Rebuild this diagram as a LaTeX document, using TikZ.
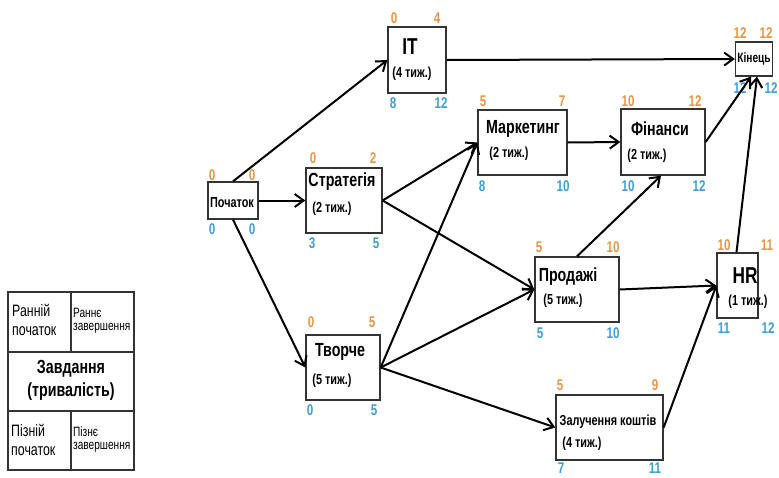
\documentclass[tikz,border=0pt]{standalone}
\usepackage{fontspec}
\setmainfont{Liberation Sans}[FakeStretch=0.75]
\usetikzlibrary{arrows.meta}
\definecolor{es}{HTML}{E99548}
\definecolor{ls}{HTML}{3D9FD3}
\definecolor{bx}{HTML}{333333}
\tikzset{
  box/.style={draw=bx, line width=1.3pt, fill=white, inner sep=0pt},
  ttl/.style={font=\bfseries\fontsize{19}{21}\selectfont, inner sep=0pt},
  ttlb/.style={font=\bfseries\fontsize{23}{25}\selectfont, inner sep=0pt},
  ttls/.style={font=\bfseries\fontsize{14.5}{16}\selectfont, inner sep=0pt},
  dur/.style={font=\bfseries\fontsize{14.5}{16}\selectfont, inner sep=0pt},
  enum/.style={text=es, font=\bfseries\fontsize{15.5}{17}\selectfont, inner sep=0pt},
  lnum/.style={text=ls, font=\bfseries\fontsize{15.5}{17}\selectfont, inner sep=0pt},
  conn/.style={line width=2pt, -{Straight Barb[length=9pt,width=13pt,line width=2pt]}},
  leg/.style={draw=bx, line width=1.3pt},
  legbig/.style={font=\fontsize{16.5}{19}\selectfont, inner sep=0pt, align=left, anchor=west},
  legsm/.style={font=\fontsize{13.5}{15}\selectfont, inner sep=0pt, align=left, anchor=west},
}
\begin{document}
\begin{tikzpicture}[x=1pt,y=-1pt]
\useasboundingbox (0,0) rectangle (779,477);

% Legend
\draw[leg] (8,292) rectangle (134,470);
\draw[leg] (8,352) -- (134,352);
\draw[leg] (8,411) -- (134,411);
\draw[leg] (71,292) -- (71,352);
\draw[leg] (71,411) -- (71,470);
\node[legbig] (l1a) at (12,310) {Ранній};
\node[legbig] (l1b) at (12,331) {початок};
\node[legsm] (l2a) at (73,313) {Раннє};
\node[legsm] (l2b) at (73,328) {завершення};
\node[font=\bfseries\fontsize{19}{22}\selectfont, inner sep=0pt] (l3a) at (71,369) {Завдання};
\node[font=\bfseries\fontsize{19}{22}\selectfont, inner sep=0pt] (l3b) at (71,392) {(тривалість)};
\node[legbig] (l4a) at (11,430) {Пізній};
\node[legbig] (l4b) at (11,451) {початок};
\node[legsm] (l5a) at (73,432) {Пізнє};
\node[legsm] (l5b) at (73,447) {завершення};

% Boxes
\node[box, minimum width=50, minimum height=37] (start) at (233,200.5) {};
\node[box, minimum width=76, minimum height=65] (strat) at (344,200.5) {};
\node[box, minimum width=58, minimum height=66] (it) at (417,60) {};
\node[box, minimum width=89, minimum height=65] (mark) at (522.5,142.5) {};
\node[box, minimum width=84, minimum height=66] (fin) at (663,142) {};
\node[box, minimum width=37, minimum height=34] (end) at (754,59) {};
\node[box, minimum width=74, minimum height=65] (tvor) at (343,367.5) {};
\node[box, minimum width=84, minimum height=65] (prod) at (577,289.5) {};
\node[box, minimum width=41, minimum height=65] (hr) at (737.5,285.5) {};
\node[box, minimum width=107, minimum height=65] (zal) at (609.5,427.5) {};

% Titles
\node[ttls] (t-start) at (232,203) {Початок};
\node[ttl] (t-strat) at (342,182) {Стратегія};
\node[dur] (d-strat) at (332,209) {(2 тиж.)};
\node[ttlb] (t-it) at (410,47) {IT};
\node[dur] (d-it) at (412,74) {(4 тиж.)};
\node[ttl] (t-mark) at (523,129) {Маркетинг};
\node[dur] (d-mark) at (509,154) {(2 тиж.)};
\node[ttl] (t-fin) at (660,129) {Фінанси};
\node[dur] (d-fin) at (647,156) {(2 тиж.)};
\node[font=\bfseries\fontsize{13.5}{15}\selectfont, inner sep=0pt] (t-end) at (754,59) {Кінець};
\node[ttl] (t-tvor) at (340,352) {Творче};
\node[dur] (d-tvor) at (332,381) {(5 тиж.)};
\node[ttl] (t-prod) at (568,277) {Продажі};
\node[dur] (d-prod) at (563,301) {(5 тиж.)};
\node[ttlb] (t-hr) at (745,276) {HR};
\node[dur] (d-hr) at (748,302) {(1 тиж.)};
\node[ttls] (t-zal) at (608,422) {Залучення коштів};
\node[dur] (d-zal) at (582,444) {(4 тиж.)};

% Numbers
\node[enum] (n1) at (212,175) {0};  \node[enum] (n2) at (252,175) {0};
\node[lnum] (n3) at (212,229) {0};  \node[lnum] (n4) at (252,229) {0};
\node[enum] (n5) at (313,158) {0};  \node[enum] (n6) at (373,158) {2};
\node[lnum] (n7) at (312,243) {3};  \node[lnum] (n8) at (376,243) {5};
\node[enum] (n9) at (394,18) {0};   \node[enum] (n10) at (437,18) {4};
\node[lnum] (n11) at (393,103) {8}; \node[lnum] (n12) at (441,103) {12};
\node[enum] (n13) at (483,101) {5}; \node[enum] (n14) at (562,101) {7};
\node[lnum] (n15) at (482,186) {8}; \node[lnum] (n16) at (563,186) {10};
\node[enum] (n17) at (628,101) {10}; \node[enum] (n18) at (695,101) {12};
\node[lnum] (n19) at (628,186) {10}; \node[lnum] (n20) at (699,186) {12};
\node[enum] (n21) at (740,33) {12}; \node[enum] (n22) at (766,33) {12};
\node[lnum] (n23) at (740,88) {12}; \node[lnum] (n24) at (771,88) {12};
\node[enum] (n25) at (311,322) {0}; \node[enum] (n26) at (372,322) {5};
\node[lnum] (n27) at (310,410) {0}; \node[lnum] (n28) at (374,410) {5};
\node[enum] (n29) at (539,247) {5}; \node[enum] (n30) at (613,247) {10};
\node[lnum] (n31) at (540,333) {5}; \node[lnum] (n32) at (613,333) {10};
\node[enum] (n33) at (724,245) {10}; \node[enum] (n34) at (767,245) {11};
\node[lnum] (n35) at (724,328) {11}; \node[lnum] (n36) at (768,328) {12};
\node[enum] (n37) at (560,385) {5}; \node[enum] (n38) at (655,385) {9};
\node[lnum] (n39) at (561,468) {7}; \node[lnum] (n40) at (655,468) {11};

% Connectors
\draw[conn] (start.north) -- (it.west);
\draw[conn] (start.east) -- (strat.west);
\draw[conn] (start.south) -- (tvor.west);
\draw[conn] (it.east) -- (end.west);
\draw[conn] (strat.east) -- (mark.west);
\draw[conn] (strat.east) -- (prod.west);
\draw[conn] (tvor.east) -- (mark.west);
\draw[conn] (tvor.east) -- (prod.west);
\draw[conn] (tvor.east) -- (zal.west);
\draw[conn] (mark.east) -- (fin.west);
\draw[conn] (fin.east) -- ([xshift=-3pt]end.south);
\draw[conn] (prod.north) -- ([xshift=-2pt]fin.south);
\draw[conn] (prod.east) -- (hr.west);
\draw[conn] ([xshift=-1pt]hr.north) -- ([xshift=3pt]end.south);
\draw[conn] (zal.east) -- (hr.west);
\end{tikzpicture}
\end{document}
